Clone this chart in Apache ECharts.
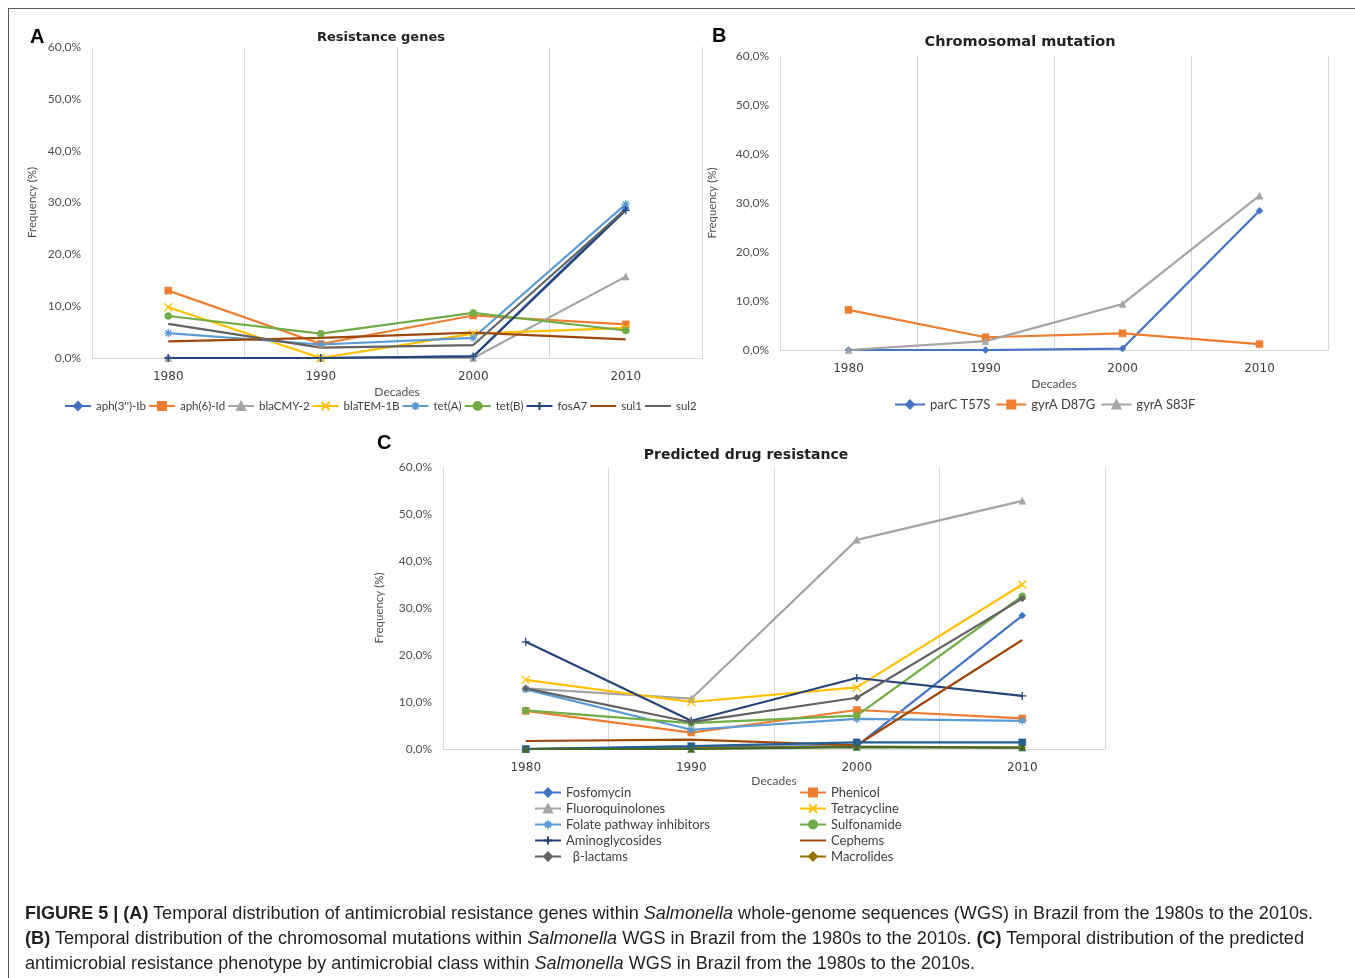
<!DOCTYPE html>
<html>
<head>
<meta charset="utf-8">
<script src="https://cdn.jsdelivr.net/npm/echarts@6/dist/echarts.min.js"></script>
<style>
  html, body { margin: 0; padding: 0; background: #fff; }
  body { width: 1355px; height: 978px; position: relative; overflow: hidden; }
  #frame { position: absolute; left: 8px; top: 8px; width: 1400px; height: 1000px; border: 1px solid #5a5a5a; box-sizing: border-box; }
  #chart { position: absolute; left: 0; top: 0; width: 1355px; height: 978px; }
  .cap { position: absolute; left: 25px; height: 24px; line-height: 24px; white-space: nowrap;
         font-family: "Liberation Sans Narrow", "Liberation Sans", Arial, sans-serif; font-size: 18.5px;
         color: #231f20; transform-origin: 0 50%; }
  .cap b { font-weight: bold; }
</style>
</head>
<body>
<div id="frame"></div>
<div id="chart"></div>
<div class="cap" id="cap1" data-w="1288" style="top:901px"><b>FIGURE 5 | (A)</b> Temporal distribution of antimicrobial resistance genes within <i>Salmonella</i> whole-genome sequences (WGS) in Brazil from the 1980s to the 2010s.</div>
<div class="cap" id="cap2" data-w="1279" style="top:926px"><b>(B)</b> Temporal distribution of the chromosomal mutations within <i>Salmonella</i> WGS in Brazil from the 1980s to the 2010s. <b>(C)</b> Temporal distribution of the predicted</div>
<div class="cap" id="cap3" data-w="950" style="top:951px">antimicrobial resistance phenotype by antimicrobial class within <i>Salmonella</i> WGS in Brazil from the 1980s to the 2010s.</div>
<script>
// ---- Decades on the x axis ----
const decades = ['1980', '1990', '2000', '2010'];

// ---- Frequency ticks (%) ----
const freqMin = 0, freqMax = 60, freqStep = 10;

// ---- A: resistance genes (frequency %, per decade) ----
const aph3Ib   = [0, 0, 0.3, 28.9];
const aph6Id   = [13.0, 2.7, 8.2, 6.5];
const blaCMY2  = [0, 0, 0, 15.7];
const blaTEM1B = [9.8, 0, 4.7, 5.8];
const tetA     = [4.8, 2.6, 3.9, 29.7];
const tetB     = [8.1, 4.7, 8.7, 5.3];
const fosA7    = [0, 0, 0.3, 28.5];
const sul1     = [3.2, 3.9, 4.9, 3.6];
const sul2     = [6.6, 2.0, 2.5, 28.7];

// ---- B: chromosomal mutations ----
const parCT57S  = [0, 0, 0.3, 28.4];
const gyrAD87G  = [8.2, 2.6, 3.4, 1.2];
const gyrAS83F  = [0, 1.8, 9.4, 31.5];

// ---- C: predicted drug resistance by class ----
const fosfomycin       = [0, 0.4, 0.6, 28.4];
const phenicol         = [8.1, 3.5, 8.3, 6.5];
const fluoroquinolones = [12.9, 10.7, 44.5, 52.8];
const tetracycline     = [14.7, 10.0, 13.1, 35.0];
const folateInhibitors = [12.7, 4.1, 6.4, 6.0];
const sulfonamide      = [8.2, 5.5, 7.1, 32.5];
const aminoglycosides  = [22.8, 6.0, 15.1, 11.3];
const cephems          = [1.7, 2.0, 0.8, 23.2];
const betaLactams      = [12.9, 5.7, 10.9, 32.0];
const macrolides       = [0, 0.2, 0.5, 0.3];
const series11         = [0, 0.6, 1.4, 1.4];
const series12         = [0, 0, 0.4, 0.3];

// ---- marker shapes (stroked paths for the open glyphs) ----
const SYM = {
  diamond: 'diamond',
  square: 'rect',
  triangle: 'triangle',
  circle: 'circle',
  cross: 'path://M0,0L10,10M10,0L0,10',
  star: 'path://M5,0L5,10M0,5L10,5M1.5,1.5L8.5,8.5M8.5,1.5L1.5,8.5',
  plus: 'path://M5,0L5,10M0,5L10,5',
  none: 'none'
};
// invisible marker for the legend swatch of marker-less series
const HIDDEN_MARK = { color: 'rgba(0,0,0,0)', borderColor: 'rgba(0,0,0,0)', borderWidth: 0, opacity: 0 };

// Office palette order, marker order
const PAL = ['#4472C4', '#ED7D31', '#A5A5A5', '#FFC000', '#5B9BD5', '#70AD47',
             '#264478', '#9E480E', '#636363', '#997300', '#255E91', '#43682B'];
const MARK = ['diamond', 'square', 'triangle', 'cross', 'star', 'circle', 'plus', 'none', 'none', 'diamond', 'square', 'triangle'];

const TXT = 'Lato, "Open Sans", sans-serif';
const NUM = '"DejaVu Sans", sans-serif';
const AXC = '#505050';
const GRIDC = '#d9d9d9';

function lineSeries(name, data, idx, gridIndex, markSize, markOverride) {
  const mk = markOverride || MARK[idx];
  const c = PAL[idx];
  const open = (mk === 'cross' || mk === 'star' || mk === 'plus');
  return {
    type: 'line',
    name: name,
    data: data,
    xAxisIndex: gridIndex,
    yAxisIndex: gridIndex,
    symbol: SYM[mk],
    symbolSize: open ? markSize + 1 : markSize,
    showSymbol: mk !== 'none',
    lineStyle: { color: c, width: 2.2 },
    itemStyle: { color: open ? 'rgba(0,0,0,0)' : c, borderColor: c, borderWidth: open ? 1.3 : 0.5 },
    emphasis: { disabled: true },
    animation: false
  };
}

const seriesA = [
  ["aph(3'')-Ib", aph3Ib], ['aph(6)-Id', aph6Id], ['blaCMY-2', blaCMY2], ['blaTEM-1B', blaTEM1B],
  ['tet(A)', tetA], ['tet(B)', tetB], ['fosA7', fosA7], ['sul1', sul1], ['sul2', sul2]
].map((d, i) => lineSeries(d[0], d[1], i, 0, 7));

const seriesB = [
  ['parC T57S', parCT57S], ['gyrA D87G', gyrAD87G], ['gyrA S83F', gyrAS83F]
].map((d, i) => lineSeries(d[0], d[1], i, 1, 7));

const namesC = ['Fosfomycin', 'Phenicol', 'Fluoroquinolones', 'Tetracycline', 'Folate pathway inhibitors',
                'Sulfonamide', 'Aminoglycosides', 'Cephems', 'β-lactams', 'Macrolides', 'Series 11', 'Series 12'];
const dataC = [fosfomycin, phenicol, fluoroquinolones, tetracycline, folateInhibitors,
               sulfonamide, aminoglycosides, cephems, betaLactams, macrolides, series11, series12];
const seriesC = namesC.map((n, i) => lineSeries(n, dataC[i], i, 2, 7, i === 8 ? 'diamond' : null));

const allSeries = seriesA.concat(seriesB, seriesC);
function legendItems(names) {
  return names.map(n => {
    const s = allSeries.find(x => x.name === n);
    return s.symbol === 'none' ? { name: n, itemStyle: HIDDEN_MARK } : { name: n };
  });
}

// grid rectangles
const grids = [
  { left: 92,  top: 47,  width: 610, height: 311 },
  { left: 780, top: 56,  width: 548, height: 294 },
  { left: 443, top: 467, width: 662, height: 282 }
];

function xAxisFor(i, nameGap) {
  return {
    type: 'category', gridIndex: i, data: decades, boundaryGap: true,
    axisLine: { show: true, lineStyle: { color: GRIDC, width: 1 } },
    axisTick: { show: false },
    axisLabel: { color: '#404040', fontFamily: NUM, fontSize: 12, margin: 13 },
    splitLine: { show: true, interval: 0, showMinLine: true, showMaxLine: true, lineStyle: { color: GRIDC, width: 1 } },
    name: 'Decades', nameLocation: 'middle', nameGap: nameGap,
    nameTextStyle: { color: AXC, fontFamily: TXT, fontSize: 12 }
  };
}
function yAxisFor(i, nameGap) {
  return {
    type: 'value', gridIndex: i, min: freqMin, max: freqMax, interval: freqStep,
    axisLine: { show: false }, axisTick: { show: false },
    splitLine: { show: false },
    axisLabel: {
      color: AXC, fontFamily: TXT, fontSize: 12, margin: 11,
      formatter: v => v.toFixed(1).replace('.', ',') + '%'
    },
    name: 'Frequency (%)', nameLocation: 'middle', nameGap: nameGap, nameRotate: 90,
    nameTextStyle: { color: AXC, fontFamily: TXT, fontSize: 11.5 }
  };
}

const legendText = { color: '#404040', fontFamily: TXT, fontSize: 11.5 };

const option = {
  animation: false,
  backgroundColor: 'transparent',
  grid: grids,
  xAxis: [xAxisFor(0, 28), xAxisFor(1, 28), xAxisFor(2, 24)],
  yAxis: [yAxisFor(0, 54), yAxisFor(1, 62), yAxisFor(2, 58)],
  legend: [
    {
      data: legendItems(seriesA.map(s => s.name)), left: 64, top: 400, orient: 'horizontal',
      itemWidth: 26, itemHeight: 10, itemGap: 2, textStyle: legendText, padding: 0
    },
    {
      data: legendItems(seriesB.map(s => s.name)), left: 894, top: 398, orient: 'horizontal',
      itemWidth: 30, itemHeight: 10, itemGap: 5, textStyle: Object.assign({}, legendText, { fontSize: 13 }), padding: 0
    },
    {
      data: legendItems(namesC.slice(0, 10).filter((n, i) => i % 2 === 0)), left: 534, top: 786, orient: 'vertical',
      itemWidth: 26, itemHeight: 10, itemGap: 3, textStyle: Object.assign({}, legendText, { fontSize: 13 }), padding: 0,
      formatter: n => (n === 'β-lactams' ? '  ' + n : n)
    },
    {
      data: legendItems(namesC.slice(0, 10).filter((n, i) => i % 2 === 1)), left: 799, top: 786, orient: 'vertical',
      itemWidth: 26, itemHeight: 10, itemGap: 3, textStyle: Object.assign({}, legendText, { fontSize: 13 }), padding: 0
    }
  ],
  graphic: [
    { type: 'text', x: 30, y: 37, style: { text: 'A', font: 'bold 20px "Liberation Sans", Arial', fill: '#000', verticalAlign: 'middle' } },
    { type: 'text', x: 712, y: 36, style: { text: 'B', font: 'bold 20px "Liberation Sans", Arial', fill: '#000', verticalAlign: 'middle' } },
    { type: 'text', x: 377, y: 443, style: { text: 'C', font: 'bold 20px "Liberation Sans", Arial', fill: '#000', verticalAlign: 'middle' } },
    { type: 'text', x: 381, y: 38, style: { text: 'Resistance genes', font: 'bold 13px "DejaVu Sans"', fill: '#222', align: 'center', verticalAlign: 'middle' } },
    { type: 'text', x: 1020, y: 42, style: { text: 'Chromosomal mutation', font: 'bold 14.5px "DejaVu Sans"', fill: '#222', align: 'center', verticalAlign: 'middle' } },
    { type: 'text', x: 746, y: 455, style: { text: 'Predicted drug resistance', font: 'bold 14px "DejaVu Sans"', fill: '#222', align: 'center', verticalAlign: 'middle' } }
  ],
  series: allSeries
};

const chart = echarts.init(document.getElementById('chart'), null, { renderer: 'canvas' });
chart.setOption(option);

// fit each caption line to its measured column width
['cap1', 'cap2', 'cap3'].forEach(id => {
  const el = document.getElementById(id);
  const w = el.getBoundingClientRect().width;
  const target = +el.dataset.w;
  el.style.transform = 'scaleX(' + (target / w).toFixed(4) + ')';
});
</script>
</body>
</html>
